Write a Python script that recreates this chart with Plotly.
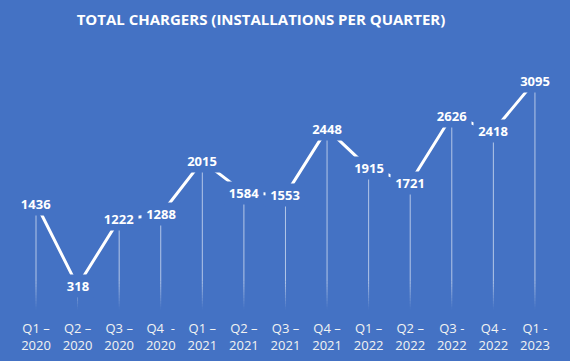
import plotly.graph_objects as go

categories = ["Q1 –<br>2020", "Q2 –<br>2020", "Q3 –<br>2020", "Q4  -<br>2020",
              "Q1 –<br>2021", "Q2 –<br>2021", "Q3 –<br>2021", "Q4 –<br>2021",
              "Q1 –<br>2022", "Q2 –<br>2022", "Q3 -<br>2022", "Q4 -<br>2022",
              "Q1 -<br>2023"]
values = [1436, 318, 1222, 1288, 2015, 1584, 1553, 2448, 1915, 1721, 2626, 2418, 3095]

BG = "#4472C4"
FONT = "Open Sans"

xs = list(range(len(values)))
fig = go.Figure()

# drop lines with fading bottom
fade_span = 380
n_fade = 10
for i, v in enumerate(values):
    fig.add_trace(go.Scatter(x=[i, i], y=[v, fade_span], mode="lines",
                             line=dict(color="rgba(255,255,255,0.6)", width=1),
                             hoverinfo="skip", showlegend=False))
    for k in range(n_fade):
        y0 = fade_span * (1 - k / n_fade)
        y1 = fade_span * (1 - (k + 1) / n_fade)
        a = 0.6 * (1 - (k + 0.5) / n_fade)
        fig.add_trace(go.Scatter(x=[i, i], y=[y0, y1], mode="lines",
                                 line=dict(color=f"rgba(255,255,255,{a:.3f})", width=1),
                                 hoverinfo="skip", showlegend=False))

fig.add_trace(go.Scatter(x=xs, y=values, mode="lines",
                         line=dict(color="white", width=3),
                         hoverinfo="skip", showlegend=False))

for i, v in enumerate(values):
    fig.add_annotation(x=i, y=v, xref="x", yref="y", text=f"<b>{v}</b>",
                       showarrow=False, bgcolor=BG, borderpad=2,
                       width=8 * len(str(v)) + 2, height=18,
                       font=dict(family=FONT, size=13, color="white"))

fig.update_layout(
    width=570, height=361,
    paper_bgcolor=BG, plot_bgcolor=BG,
    margin=dict(l=0, r=0, t=0, b=50),
    title=dict(text="<b>TOTAL CHARGERS (INSTALLATIONS PER QUARTER)</b>",
               x=261 / 570, xanchor="center", y=1 - 20 / 361, yanchor="middle",
               font=dict(family=FONT, size=15, color="white")),
    xaxis=dict(range=[-0.866, 12.843], tickvals=xs, ticktext=categories,
               showgrid=False, zeroline=False, showline=False, ticks="",
               tickfont=dict(family=FONT, size=13, color="#F2F2F2"),
               ticklabelstandoff=8, fixedrange=True),
    yaxis=dict(range=[-20, 4194], visible=False, fixedrange=True),
)

fig.write_html("out.html", config={"displayModeBar": False},
               post_script="document.body.style.margin='0';document.body.style.overflow='hidden';")
